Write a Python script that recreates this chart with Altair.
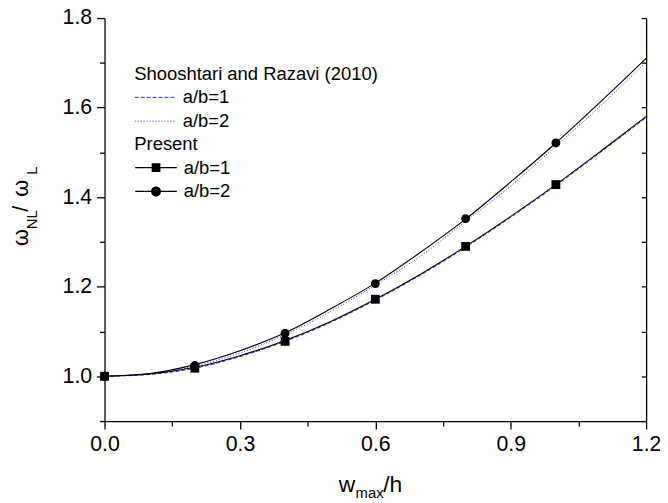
import altair as alt
import pandas as pd

FONT = "Liberation Sans"

# ---- data ----
x_curve = [0.0, 0.1, 0.2, 0.3, 0.4, 0.5, 0.6, 0.7, 0.8, 0.9, 1.0, 1.1, 1.2]
present_ab1 = [1.000, 1.005, 1.020, 1.046, 1.080, 1.122, 1.172, 1.228, 1.290, 1.357, 1.428, 1.503, 1.580]
present_ab2 = [1.000, 1.006, 1.026, 1.057, 1.097, 1.150, 1.208, 1.277, 1.351, 1.434, 1.521, 1.614, 1.710]
sho_ab1 = [1.000, 1.004, 1.018, 1.044, 1.078, 1.120, 1.170, 1.226, 1.288, 1.355, 1.426, 1.501, 1.578]
sho_ab2 = [1.000, 1.005, 1.023, 1.052, 1.093, 1.144, 1.204, 1.268, 1.346, 1.425, 1.514, 1.605, 1.702]

x_marks = [0.0, 0.2, 0.4, 0.6, 0.8, 1.0]
marks_ab1 = [1.000, 1.018, 1.078, 1.172, 1.290, 1.428]
marks_ab2 = [1.000, 1.024, 1.096, 1.207, 1.352, 1.521]

series_labels = ["a/b=1", "a/b=2"]
x_ticks_major = [0.0, 0.3, 0.6, 0.9, 1.2]
x_ticks_minor = [0.15, 0.45, 0.75, 1.05]
y_ticks_major = [1.0, 1.2, 1.4, 1.6, 1.8]
y_ticks_minor = [0.9, 1.1, 1.3, 1.5, 1.7]
y_ticks_all = [0.9, 1.0, 1.1, 1.2, 1.3, 1.4, 1.5, 1.6, 1.7, 1.8]

# ---- tables ----
df_sho = pd.DataFrame(
    [{"x": x, "y": y, "sho": series_labels[0]} for x, y in zip(x_curve, sho_ab1)]
    + [{"x": x, "y": y, "sho": series_labels[1]} for x, y in zip(x_curve, sho_ab2)]
)
df_pl = pd.DataFrame(
    [{"x": x, "y": y, "pl": series_labels[0]} for x, y in zip(x_curve, present_ab1)]
    + [{"x": x, "y": y, "pl": series_labels[1]} for x, y in zip(x_curve, present_ab2)]
)
df_pp = pd.DataFrame(
    [{"x": x, "y": y, "pp": series_labels[0]} for x, y in zip(x_marks, marks_ab1)]
    + [{"x": x, "y": y, "pp": series_labels[1]} for x, y in zip(x_marks, marks_ab2)]
)

xscale = alt.Scale(domain=[0, 1.2], nice=False, zero=False)
yscale = alt.Scale(domain=[0.9, 1.8], nice=False, zero=False)

common = dict(grid=False, domainColor="black", tickColor="black", labelColor="black",
              labelFont=FONT, domainWidth=1.3, tickWidth=1.3, title=None)

x_major = alt.Axis(orient="bottom", values=x_ticks_major, format=".1f", tickSize=8,
                   labelFontSize=21.5, labelPadding=5, labelFlush=False,
                   labelOverlap=False, **common)
x_minor = alt.Axis(orient="bottom", values=x_ticks_minor, tickSize=5, labels=False,
                   domain=False, **common)
y_major = alt.Axis(orient="left", values=y_ticks_major, format=".1f", tickSize=8,
                   labelFontSize=21.5, labelPadding=5, labelFlush=False,
                   labelOverlap=False, **common)
y_minor = alt.Axis(orient="left", values=y_ticks_minor, tickSize=5, labels=False,
                   domain=False, **common)
y_right_dom = alt.Axis(orient="right", ticks=False, labels=False, domain=True, **common)
y_right_ticks = alt.Axis(orient="right", values=y_ticks_all, tickSize=5, labels=False,
                         domain=False, offset=-5, **common)

BLUE = "#2a2ae0"
legend_common = dict(orient="none", symbolSize=1764, clipHeight=20, rowPadding=4,
                     titlePadding=4, labelOffset=6, labelFont=FONT, labelFontSize=18.6,
                     titleFont=FONT, titleFontSize=18.6, titleFontWeight="normal",
                     titleColor="black", labelColor="black", padding=0, legendX=30,
                     titleLimit=500, labelLimit=300)

sho = alt.Chart(df_sho).mark_line(color=BLUE, strokeWidth=1, interpolate="monotone").encode(
    x=alt.X("x:Q", scale=xscale, axis=x_major),
    y=alt.Y("y:Q", scale=yscale, axis=y_major),
    strokeDash=alt.StrokeDash(
        "sho:N",
        scale=alt.Scale(range=[[4, 2], [1, 2]]),
        legend=alt.Legend(title="Shooshtari and Razavi (2010)", legendY=47.5,
                          symbolType="stroke", symbolStrokeWidth=1,
                          symbolStrokeColor=BLUE, **legend_common),
    ),
)

pres_line = alt.Chart(df_pl).mark_line(color="black", strokeWidth=1.1, interpolate="monotone").encode(
    x=alt.X("x:Q", scale=xscale, axis=x_minor),
    y=alt.Y("y:Q", scale=yscale, axis=y_minor),
    detail="pl:N",
)

pts = alt.Chart(df_pp).mark_point(filled=True, color="black", size=80, opacity=1).encode(
    x=alt.X("x:Q", scale=xscale, axis=None),
    y=alt.Y("y:Q", scale=yscale, axis=y_right_dom),
    shape=alt.Shape("pp:N", scale=alt.Scale(range=["square", "circle"]), legend=None),
)

# legend glyphs: a thin filled bar (the line) plus the marker
PATH_SQ = "M-1,-0.028H1V0.028H-1ZM-0.21,-0.21H0.21V0.21H-0.21Z"
PATH_CI = ("M-1,-0.028H1V0.028H-1Z"
           "M0.24,0A0.24,0.24,0,1,1,-0.24,0A0.24,0.24,0,1,1,0.24,0Z")

legend_layer = alt.Chart(df_pp).transform_filter("false").mark_point(
    filled=True, color="black", opacity=1
).encode(
    x=alt.X("x:Q", scale=xscale, axis=None),
    y=alt.Y("y:Q", scale=yscale, axis=y_right_ticks),
    shape=alt.Shape(
        "pp:N",
        scale=alt.Scale(domain=series_labels, range=[PATH_SQ, PATH_CI]),
        legend=alt.Legend(title="Present", legendY=118.5,
                          symbolFillColor="black", **legend_common),
    ),
)


def txt(s, x, y, size, angle=0):
    return alt.Chart(pd.DataFrame({"t": [s]})).mark_text(
        font=FONT, fontSize=size, align="left", baseline="alphabetic",
        angle=angle, color="black"
    ).encode(x=alt.value(x), y=alt.value(y), text="t:N")


titles = [
    # x axis title: w_max/h
    txt("w", 236.5, 478.3, 23),
    txt("max", 253.5, 485.0, 15),
    txt("/h", 281.5, 478.3, 23),
    # y axis title: omega_NL / omega_L (rotated)
    txt("ω", -77.5, 230.3, 22, 270),
    txt("NL", -68.0, 213.3, 15, 270),
    txt("/", -77.5, 195.5, 22, 270),
    txt("ω", -77.5, 180.5, 22, 270),
    txt("L", -68.0, 158.3, 15, 270),
]

chart = alt.layer(sho, pres_line, pts, legend_layer, *titles).resolve_scale(
    shape="independent", strokeDash="independent"
).resolve_axis(x="independent", y="independent").properties(
    width=547, height=407,
    autosize=alt.AutoSizeParams(type="none"),
    padding={"left": 97.5, "top": 7.7, "right": 14, "bottom": 80},
).configure_view(stroke=None)

chart.save("out.html", embed_options={"renderer": "svg", "actions": False})
